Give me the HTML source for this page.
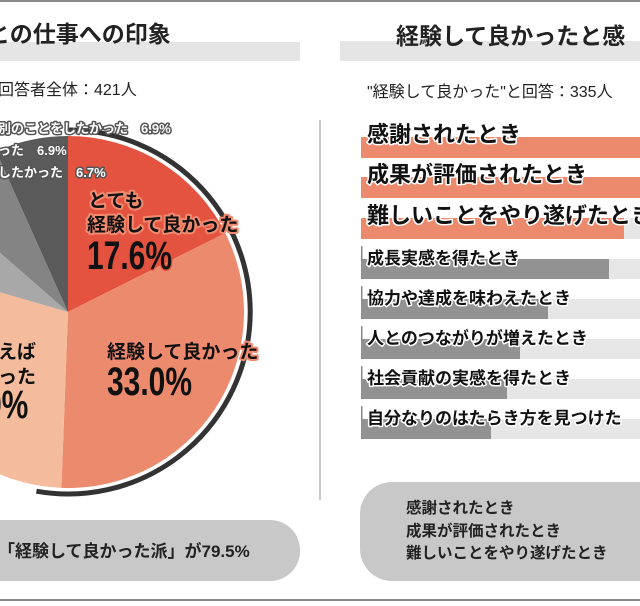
<!DOCTYPE html>
<html><head><meta charset="utf-8"><style>
body{margin:0;width:640px;height:601px;overflow:hidden;background:#fff;font-family:"Liberation Sans","Noto Sans CJK JP",sans-serif}
</style></head><body>
<svg width="640" height="601" viewBox="0 0 640 601" xmlns="http://www.w3.org/2000/svg" style="font-family:'Liberation Sans','Noto Sans CJK JP',sans-serif">
<rect x="0" y="0" width="640" height="2" fill="#888"/>
<rect x="0" y="599" width="640" height="2" fill="#888"/>
<rect x="0" y="42" width="300" height="19" fill="#e5e5e5"/>
<text x="-13" y="42" font-size="23" font-weight="bold" fill="#222">との仕事への印象</text>
<rect x="340" y="41" width="300" height="20" fill="#e5e5e5"/>
<text x="396" y="44" font-size="23" font-weight="bold" fill="#222">経験して良かったと感</text>
<text x="-2" y="95" font-size="16" fill="#222">回答者全体：421人</text>
<text x="367" y="97" font-size="16" fill="#222">"経験して良かった"と回答：335人</text>
<rect x="319" y="120" width="2" height="380" fill="#ccc"/>
<path d="M68,312 L68,136 A176,176 0 0 1 225.3,233.1 Z" fill="#e4533f"/>
<path d="M68,312 L225.3,233.1 A176,176 0 0 1 61.4,487.9 Z" fill="#ec8a6d"/>
<path d="M68,312 L61.4,487.9 A176,176 0 0 1 -101,262.9 Z" fill="#f4bc9d"/>
<path d="M68,312 L-101,262.9 A176,176 0 0 1 -64.7,196.4 Z" fill="#a8a8a8"/>
<path d="M68,312 L-64.7,196.4 A176,176 0 0 1 -3.9,151.4 Z" fill="#848484"/>
<path d="M68,312 L-3.9,151.4 A176,176 0 0 1 68,136 Z" fill="#5a5a5a"/>
<path d="M68,130 A182,182 0 1 1 36.4,491.2" fill="none" stroke="#333" stroke-width="5"/>
<g font-weight="bold" paint-order="stroke" stroke-linejoin="round">
<g font-size="13" fill="#fff" stroke="#555" stroke-width="3">
<text x="-2" y="133">別のことをしたかった　6.9%</text>
<text x="-2" y="155">った　6.9%</text>
<text x="-2" y="177">したかった　6.7%</text>
</g>
<g fill="#111" stroke="#f08a70" stroke-width="4">
<text x="88" y="207" font-size="19">とても</text>
<text x="87" y="231" font-size="19">経験して良かった</text>
<text x="107" y="358" font-size="19">経験して良かった</text>
<text x="-2" y="358" font-size="19" stroke="#f4bc9d">えば</text>
<text x="-2" y="383" font-size="19" stroke="#f4bc9d">った</text>
</g>
<g fill="#111" font-family="'Liberation Sans Narrow','Liberation Sans',sans-serif" font-size="40">
<text x="87" y="269" stroke="#e4533f" stroke-width="3" transform="translate(87,0) scale(0.75,1) translate(-87,0)">17.6%</text>
<text x="107" y="395" stroke="#ec8a6d" stroke-width="3" transform="translate(107,0) scale(0.75,1) translate(-107,0)">33.0%</text>
<text x="-20" y="418" stroke="#f4bc9d" stroke-width="3" transform="scale(0.75,1)">9%</text>
</g>
</g>
<g>
<rect x="361" y="137" width="279" height="21" fill="#ec8a6d"/>
<rect x="361" y="177" width="279" height="21" fill="#ec8a6d"/>
<rect x="361" y="218" width="279" height="21" fill="#e6e6e6"/><rect x="361" y="218" width="263" height="21" fill="#ec8a6d"/>
<rect x="361" y="259" width="279" height="20" fill="#e6e6e6"/><rect x="361" y="259" width="248" height="20" fill="#929292"/>
<rect x="361" y="299" width="279" height="20" fill="#e6e6e6"/><rect x="361" y="299" width="187" height="20" fill="#929292"/>
<rect x="361" y="339" width="279" height="20" fill="#e6e6e6"/><rect x="361" y="339" width="159" height="20" fill="#929292"/>
<rect x="361" y="379" width="279" height="20" fill="#e6e6e6"/><rect x="361" y="379" width="146" height="20" fill="#929292"/>
<rect x="361" y="419" width="279" height="20" fill="#e6e6e6"/><rect x="361" y="419" width="130" height="20" fill="#929292"/>
<g fill="#888"><rect x="361" y="246" width="1.5" height="14"/><rect x="361" y="286" width="1.5" height="14"/><rect x="361" y="326" width="1.5" height="14"/><rect x="361" y="366" width="1.5" height="14"/><rect x="361" y="406" width="1.5" height="14"/></g>
<g font-weight="bold" fill="#111" stroke="#fff" stroke-width="3" paint-order="stroke" stroke-linejoin="round">
<g font-size="22"><text x="367" y="142">感謝されたとき</text><text x="367" y="182">成果が評価されたとき</text><text x="367" y="223">難しいことをやり遂げたとき</text></g>
<g font-size="17"><text x="367" y="264">成長実感を得たとき</text><text x="367" y="304">協力や達成を味わえたとき</text><text x="367" y="344">人とのつながりが増えたとき</text><text x="367" y="384">社会貢献の実感を得たとき</text><text x="367" y="424">自分なりのはたらき方を見つけた</text></g>
</g>
</g>
<rect x="-40" y="520" width="340" height="61" rx="30" fill="#c8c8c8"/>
<text x="-2" y="557" font-size="17" font-weight="bold" fill="#222">「経験して良かった派」が79.5%</text>
<rect x="360" y="482" width="320" height="99" rx="32" fill="#c8c8c8"/>
<g font-size="15.5" font-weight="bold" fill="#222"><text x="406" y="513">感謝されたとき</text><text x="406" y="536">成果が評価されたとき</text><text x="406" y="558">難しいことをやり遂げたとき</text></g>
</svg>
</body></html>
